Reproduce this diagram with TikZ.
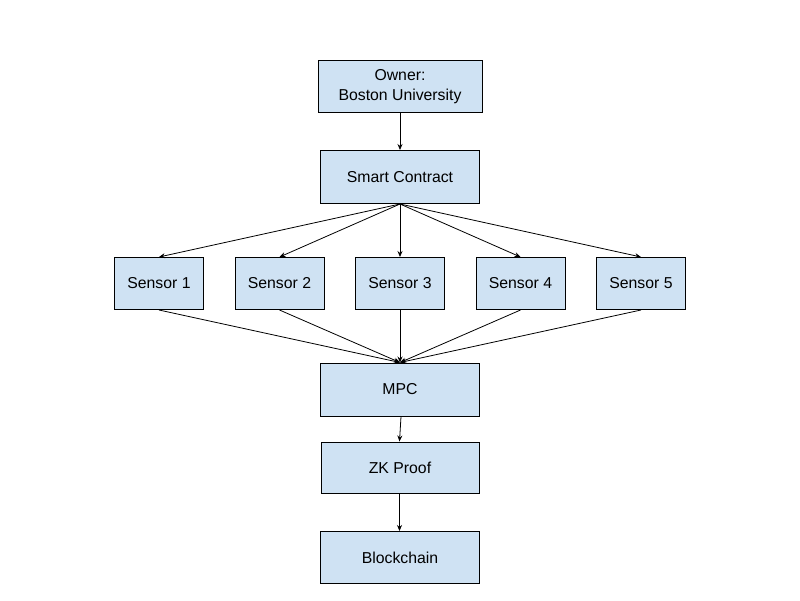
\documentclass[tikz,border=0pt]{standalone}
\usepackage{fontspec}
\setmainfont{Liberation Sans}
\usetikzlibrary{arrows.meta}
\definecolor{boxfill}{HTML}{CFE2F3}
\begin{document}
\begin{tikzpicture}[x=1pt,y=-1pt,
  box/.style={draw=black, line width=1pt, fill=boxfill, inner sep=0pt, align=center, font=\fontsize{15.8}{20.5}\selectfont},
  arr/.style={-{Stealth[length=6pt,width=5pt]}, line width=0.8pt}]
\useasboundingbox[fill=white] (0,0) rectangle (800,600);
\node[box, minimum width=164pt, minimum height=52pt] (owner) at (400,86.5) {Owner:\\Boston University};
\node[box, minimum width=159pt, minimum height=53pt] (sc) at (400,177) {Smart Contract};
\node[box, minimum width=89pt, minimum height=52pt] (s1) at (159,283.5) {Sensor 1};
\node[box, minimum width=89pt, minimum height=52pt] (s2) at (279.5,283.5) {Sensor 2};
\node[box, minimum width=89pt, minimum height=52pt] (s3) at (400,283.5) {Sensor 3};
\node[box, minimum width=89pt, minimum height=52pt] (s4) at (520.5,283.5) {Sensor 4};
\node[box, minimum width=89pt, minimum height=52pt] (s5) at (641,283.5) {Sensor 5};
\node[box, minimum width=159pt, minimum height=53pt] (mpc) at (400,389.5) {MPC};
\node[box, minimum width=158pt, minimum height=51pt] (zk) at (400,467.5) {ZK Proof};
\node[box, minimum width=159pt, minimum height=52pt] (bc) at (400,557.5) {Blockchain};
\draw[arr] (owner.south) -- (sc.north);
\foreach \s in {s1,s2,s3,s4,s5}{
  \draw[arr] (sc.south) -- (\s.north);
  \draw[arr] (\s.south) -- (mpc.north);
}
\draw[arr] ([xshift=1pt]mpc.south) -- ([xshift=-0.5pt]zk.north);
\draw[arr] ([xshift=-0.5pt]zk.south) -- ([xshift=-0.5pt]bc.north);
\end{tikzpicture}
\end{document}
